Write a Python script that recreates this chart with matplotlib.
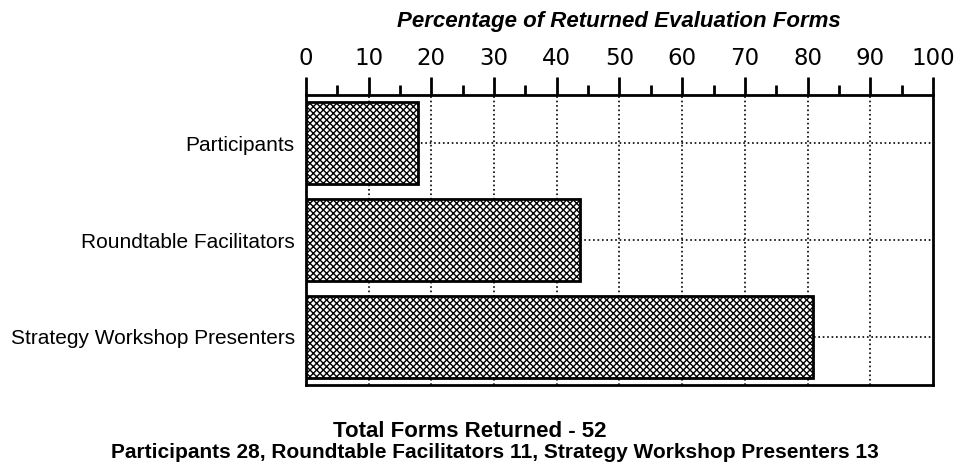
import numpy as np
import matplotlib
matplotlib.use('Agg')
import matplotlib.pyplot as plt

groups = ['Participants', 'Roundtable Facilitators', 'Strategy Workshop Presenters']
percent_returned = [17.8, 43.7, 80.9]
x_ticks = list(range(0, 101, 10))
title = 'Percentage of Returned Evaluation Forms'
footer_1 = 'Total Forms Returned - 52'
footer_2 = 'Participants 28, Roundtable Facilitators 11, Strategy Workshop Presenters 13'

plt.rcParams['font.family'] = ['Liberation Sans', 'DejaVu Sans']
plt.rcParams['hatch.linewidth'] = 1.0

fig = plt.figure(figsize=(9.67, 4.76), dpi=100)
ax = fig.add_axes([0.3164, 0.1912, 0.6484, 0.609])

y = np.arange(len(groups))
ax.barh(y, percent_returned, height=0.85, color='white', edgecolor='black',
        hatch='xxxxx', linewidth=2, zorder=3)

ax.set_xlim(0, 100)
ax.set_ylim(2.5, -0.5)

# grid: dotted verticals at every 10 and horizontals through bar centres
for v in x_ticks[1:-1]:
    ax.axvline(v, color='black', linestyle=':', linewidth=1.2, zorder=1)
for yy in y:
    ax.axhline(yy, color='black', linestyle=':', linewidth=1.2, zorder=1)

ax.xaxis.tick_top()
ax.set_xticks(x_ticks)
ax.set_xticks(np.arange(5, 100, 10), minor=True)
ax.tick_params(axis='x', which='major', direction='out', length=13, width=2,
               labelsize=16.5, pad=5)
ax.tick_params(axis='x', which='minor', direction='out', length=7, width=2)
for lbl in ax.get_xticklabels():
    lbl.set_family('DejaVu Sans')

ax.set_yticks(y)
ax.set_yticklabels(groups, fontsize=15)
ax.tick_params(axis='y', length=0, pad=8)

for s in ax.spines.values():
    s.set_linewidth(2)
    s.set_color('black')

fig.text(0.64, 0.955, title, ha='center', va='center', fontsize=16,
         fontweight='bold', fontstyle='italic')
fig.text(0.486, 0.094, footer_1, ha='center', va='center', fontsize=16,
         fontweight='bold')
fig.text(0.512, 0.05, footer_2, ha='center', va='center', fontsize=15,
         fontweight='bold')

fig.savefig('out.png', dpi=100)
